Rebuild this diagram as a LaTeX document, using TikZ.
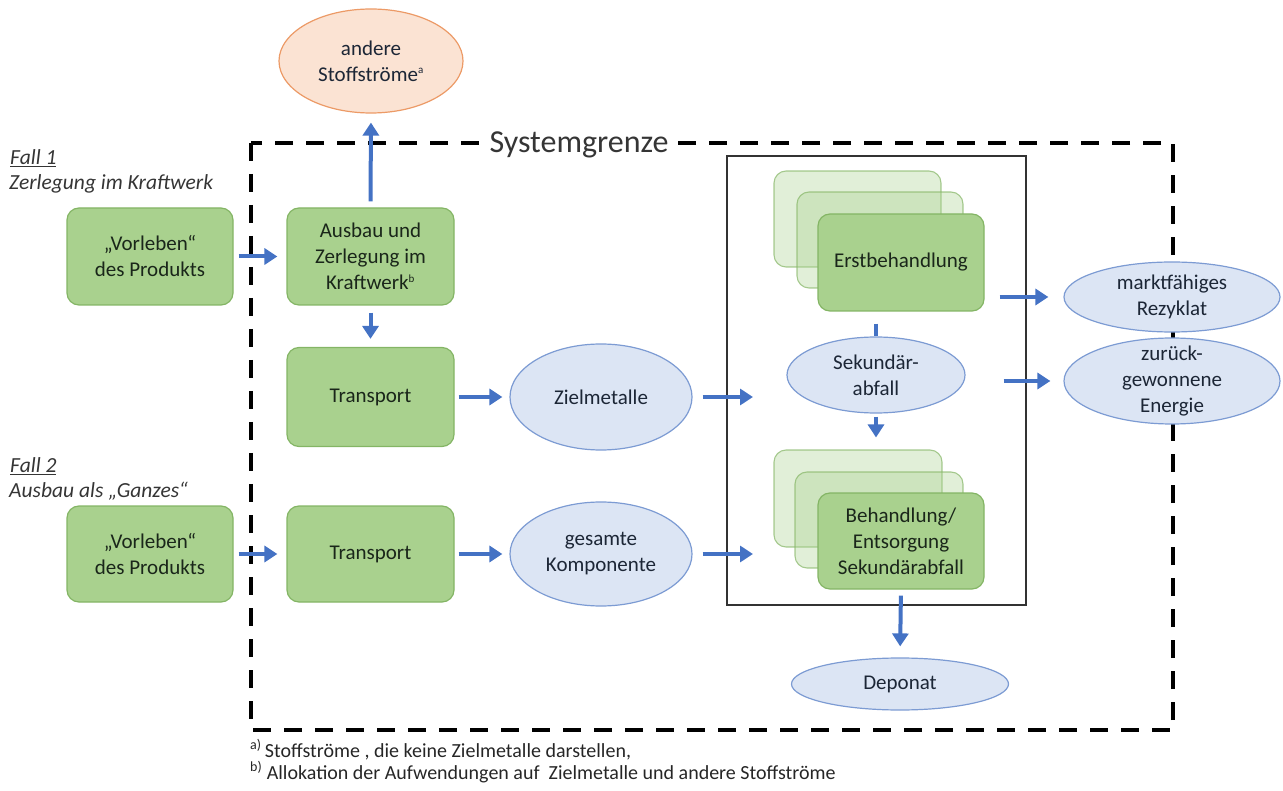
\documentclass[tikz,border=0pt]{standalone}
\usepackage{fontspec}
\setmainfont{Carlito}
\usetikzlibrary{arrows.meta,shapes.geometric}
\definecolor{gfill}{HTML}{A9D18E}
\definecolor{gdraw}{HTML}{84B565}
\definecolor{bfill}{HTML}{DCE5F4}
\definecolor{bdraw}{HTML}{7C9BD3}
\definecolor{arrc}{HTML}{4472C4}
\definecolor{ofill}{HTML}{FBE3D3}
\definecolor{odraw}{HTML}{EC9A66}
\definecolor{txt}{HTML}{1A261A}
\definecolor{etxt}{HTML}{1C2636}
\definecolor{gtxt}{HTML}{353535}
\begin{document}
\begin{tikzpicture}[x=1pt,y=-1pt,
  box/.style={draw=gdraw, fill=gfill, line width=1.2pt, rounded corners=12pt,
    align=center, font=\fontsize{21}{26}\selectfont, text=txt, inner sep=0pt},
  ghost/.style={draw=gdraw, draw opacity=0.7, fill=gfill, fill opacity=0.35,
    line width=1.1pt, rounded corners=12pt, inner sep=0pt},
  ell/.style={shape=ellipse, draw=bdraw, fill=bfill, line width=1.2pt, inner sep=0pt},
  lbl/.style={align=center, font=\fontsize{21}{26}\selectfont, text=etxt, inner sep=0pt},
  arr/.style={draw=arrc, line width=4pt, -{Triangle[length=13pt,width=16pt]}},
  flow/.style={draw=arrc, line width=4pt},
  casetxt/.style={font=\fontsize{21.5}{25}\selectfont\itshape, text=gtxt, anchor=base west, inner sep=0pt},
  foot/.style={font=\fontsize{20}{24}\selectfont, text=black!85, anchor=base west, inner sep=0pt},
  bound/.style={draw=black, line width=4pt, dash pattern=on 18pt off 13pt}
]
\useasboundingbox (0,0) rectangle (1283,791);

% system boundary
\draw[bound] (251,143) rectangle (1173,730);
\node[font=\fontsize{32}{36}\selectfont, text=gtxt, fill=white, inner xsep=7pt, inner ysep=2pt, anchor=base] (sg) at (579,153) {Systemgrenze};

% inner process box
\node[draw=black!80, line width=1.5pt, minimum width=299pt, minimum height=449pt, inner sep=0pt] (proc) at (876.5,380.5) {};

% case labels
\node[casetxt] (f1) at (10,165) {\underline{Fall 1}};
\node[casetxt] (f1b) at (9,190) {Zerlegung im Kraftwerk};
\node[casetxt] (f2) at (10,473) {\underline{Fall 2}};
\node[casetxt] (f2b) at (9,497) {Ausbau als „Ganzes“};

% left boxes
\node[box, minimum width=166pt, minimum height=97pt] (v1) at (150,256.5) {„Vorleben“\\des Produkts};
\node[box, minimum width=167pt, minimum height=97pt] (a1) at (370.5,256.5) {Ausbau und\\Zerlegung im\\Kraftwerk\textsuperscript{\fontsize{11}{11}\selectfont b}};
\node[box, minimum width=167pt, minimum height=99pt] (t1) at (370.5,397) {Transport};
\node[box, minimum width=166pt, minimum height=96pt] (v2) at (150,554) {„Vorleben“\\des Produkts};
\node[box, minimum width=167pt, minimum height=96pt] (t2) at (370.5,554) {Transport};

% ellipses
\node[shape=ellipse, draw=odraw, fill=ofill, line width=1.2pt, inner sep=0pt,
  minimum width=184pt, minimum height=104pt,
  label={[lbl]center:andere\\Stoffströme\textsuperscript{\fontsize{11}{11}\selectfont a}}] (and) at (371,61) {};
\node[ell, minimum width=182pt, minimum height=106pt, label={[lbl]center:Zielmetalle}] (ziel) at (601,397) {};
\node[ell, minimum width=182pt, minimum height=104pt, label={[lbl]center:gesamte\\Komponente}] (ges) at (601,554) {};

% Erstbehandlung stack
\node[ghost, minimum width=167pt, minimum height=96pt] (eA) at (857.5,219) {};
\node[ghost, minimum width=166pt, minimum height=96pt] (eB) at (880,240) {};
\node[box, minimum width=166pt, minimum height=97pt] (erst) at (901,262.5) {Erstbehandlung};

\node[ell, minimum width=178pt, minimum height=76pt, label={[lbl]center:Sekundär-\\abfall}] (sek) at (876,375) {};

% Behandlung stack
\node[ghost, minimum width=168pt, minimum height=97pt] (bA) at (858,498.5) {};
\node[ghost, minimum width=168pt, minimum height=96pt] (bB) at (879,520) {};
\node[box, minimum width=166pt, minimum height=96pt] (beh) at (901,541) {Behandlung/\\Entsorgung\\Sekundärabfall};

\node[ell, minimum width=217pt, minimum height=52pt, label={[lbl]center:Deponat}] (dep) at (900,684) {};
\node[ell, minimum width=216pt, minimum height=70pt, label={[lbl]center:marktfähiges\\Rezyklat}] (markt) at (1172,297) {};
\node[ell, minimum width=216pt, minimum height=86pt, label={[lbl]center:zurück-\\gewonnene\\Energie}] (zur) at (1172,381) {};

% arrows
\draw[arr, shorten <=5pt, shorten >=9pt] (v1.east) -- (a1.west);
\draw[arr, shorten <=5pt, shorten >=9pt] (v2.east) -- (t2.west);
\draw[arr, shorten <=6pt, shorten >=9pt] (a1.north) -- (and.south);
\draw[arr, shorten <=7pt, shorten >=8pt] (a1.south) -- (t1.north);
\draw[arr, shorten <=4pt, shorten >=7pt] (t1.east) -- (ziel.west);
\draw[arr, shorten <=4pt, shorten >=7pt] (t2.east) -- (ges.west);
\coordinate (zin) at (753,397);
\coordinate (gin) at (753,554);
\draw[arr, shorten <=10pt] (ziel.east) -- (zin);
\draw[arr, shorten <=10pt] (ges.east) -- (gin);
\draw[flow, shorten <=12pt] (sek.north |- erst.south) -- (sek.north);
\draw[arr, shorten <=3pt, shorten >=12pt] (sek.south) -- (sek.south |- bA.north);
\draw[arr, shorten <=6pt, shorten >=11pt] (beh.south) -- (dep.north);
\draw[arr, shorten <=15pt, shorten >=15pt] (erst.east |- markt.west) -- (markt.west);
\draw[arr, shorten <=19pt, shorten >=13pt] (erst.east |- zur.west) -- (zur.west);

% footnotes
\node[foot] (fa) at (250,757) {\textsuperscript{a)}\,Stoffströme , die keine Zielmetalle darstellen,};
\node[foot] (fb) at (250,779) {\textsuperscript{b)} Allokation der Aufwendungen auf \ Zielmetalle und andere Stoffströme};
\end{tikzpicture}
\end{document}
